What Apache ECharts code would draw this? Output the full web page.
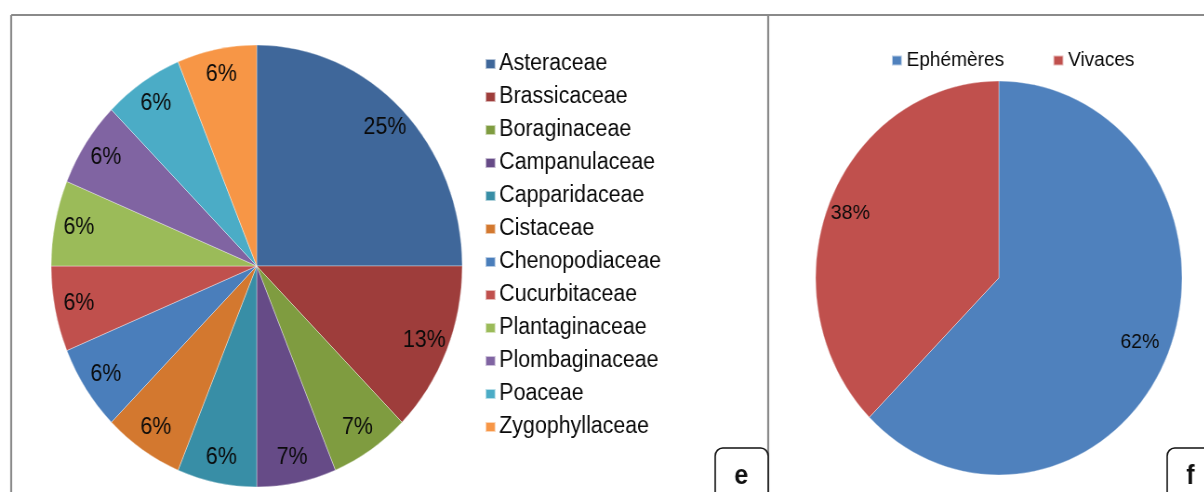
<!DOCTYPE html>
<html>
<head>
<meta charset="utf-8">
<script src="https://cdn.jsdelivr.net/npm/echarts@6/dist/echarts.min.js"></script>
<style>
	html, body { margin: 0; padding: 0; background: #fff; overflow: hidden; }
	/* the original figure is squeezed horizontally, so draw wide and scale down */
	#wrap { width: 1204px; height: 492px; overflow: hidden; }
	#chart { width: 1295px; height: 492px; transform: scaleX(0.93); transform-origin: 0 0; }
</style>
</head>
<body>
<div id="wrap"><div id="chart"></div></div>
<script>
	// panel e : families
	const families = ['Asteraceae', 'Brassicaceae', 'Boraginaceae', 'Campanulaceae', 'Capparidaceae', 'Cistaceae',
		'Chenopodiaceae', 'Cucurbitaceae', 'Plantaginaceae', 'Plombaginaceae', 'Poaceae', 'Zygophyllaceae']
	const familyCounts = [4, 2, 1, 1, 1, 1, 1, 1, 1, 1, 1, 1]
	const familyLabels = ['25%', '13%', '7%', '7%', '6%', '6%', '6%', '6%', '6%', '6%', '6%', '6%']
	const familyColors = ['#3f679a', '#9e3d3b', '#7f9c40', '#664b87', '#388ea6', '#d3782f',
		'#4a7ebb', '#c0504d', '#9bbb59', '#8064a2', '#4bacc6', '#f79646']

	// panel f : life form
	const types = ['Ephémères', 'Vivaces']
	const typeCounts = [10, 6]
	const typeLabels = ['62%', '38%']
	const typeColors = ['#4f81bd', '#c0504d']

	const font = '"Liberation Sans", Arial, sans-serif'
	const chart = echarts.init(document.getElementById('chart'))

	function slices(names, values, colors) {
		return names.map((n, i) => ({ name: n, value: values[i], itemStyle: { color: colors[i] } }))
	}
	// same slices, invisible, only used to put the labels near the rim like Excel does
	function labelRing(names, values, labels, center, radius, size) {
		return {
			type: 'pie',
			silent: true,
			startAngle: 90,
			clockwise: true,
			center: center,
			radius: radius,
			animation: false,
			itemStyle: { color: 'rgba(0,0,0,0)' },
			label: {
				show: true,
				position: 'inside',
				color: '#0a0a0a',
				fontFamily: font,
				fontSize: size,
				formatter: p => labels[p.dataIndex]
			},
			data: names.map((n, i) => ({ name: n, value: values[i] }))
		}
	}

	const line = { stroke: '#8a8a8a', lineWidth: 2.2 }

	chart.setOption({
		animation: false,
		legend: [{
			orient: 'vertical',
			left: 516,
			top: 47,
			itemWidth: 10.8,
			itemHeight: 10,
			itemGap: 9,
			icon: 'rect',
			textStyle: { fontFamily: font, fontSize: 23, color: '#0a0a0a', lineHeight: 24, padding: [0, 0, 0, -1] },
			data: families
		}, {
			orient: 'horizontal',
			left: 953,
			top: 45,
			itemWidth: 10.8,
			itemHeight: 10,
			itemGap: 52,
			icon: 'rect',
			textStyle: { fontFamily: font, fontSize: 20.5, color: '#0a0a0a' },
			data: types
		}],
		series: [{
				type: 'pie',
				startAngle: 90,
				clockwise: true,
				center: [276, 266],
				radius: [0, 221],
				label: { show: false },
				labelLine: { show: false },
				itemStyle: { borderColor: 'rgba(255,255,255,0.6)', borderWidth: 0.6 },
				data: slices(families, familyCounts, familyColors)
			},
			labelRing(families, familyCounts, familyLabels, [276, 266], [163, 221], 23),
			{
				type: 'pie',
				startAngle: 90,
				clockwise: true,
				center: [1074, 278],
				radius: [0, 197],
				label: { show: false },
				labelLine: { show: false },
				itemStyle: { borderColor: 'rgba(255,255,255,0.6)', borderWidth: 0.6 },
				data: slices(types, typeCounts, typeColors)
			},
			labelRing(types, typeCounts, typeLabels, [1070, 278], [134, 197], 21)
		],
		graphic: [
			// panel frames
			{ type: 'line', shape: { x1: 12, y1: 15, x2: 1300, y2: 15 }, style: line, silent: true },
			{ type: 'line', shape: { x1: 12, y1: 15, x2: 12, y2: 500 }, style: line, silent: true },
			{ type: 'line', shape: { x1: 826, y1: 15, x2: 826, y2: 500 }, style: line, silent: true },
			// panel letters
			{ type: 'rect', shape: { x: 769, y: 448, width: 57, height: 60, r: 8 }, style: { fill: '#fff', stroke: '#111', lineWidth: 1.6 }, silent: true },
			{ type: 'text', x: 797, y: 477, style: { text: 'e', fontFamily: font, fontWeight: 'bold', fontSize: 27, fill: '#111', align: 'center', verticalAlign: 'middle' }, silent: true },
			{ type: 'rect', shape: { x: 1255, y: 448, width: 60, height: 60, r: 8 }, style: { fill: '#fff', stroke: '#111', lineWidth: 1.6 }, silent: true },
			{ type: 'text', x: 1280, y: 477, style: { text: 'f', fontFamily: font, fontWeight: 'bold', fontSize: 27, fill: '#111', align: 'center', verticalAlign: 'middle' }, silent: true }
		]
	})
</script>
</body>
</html>
